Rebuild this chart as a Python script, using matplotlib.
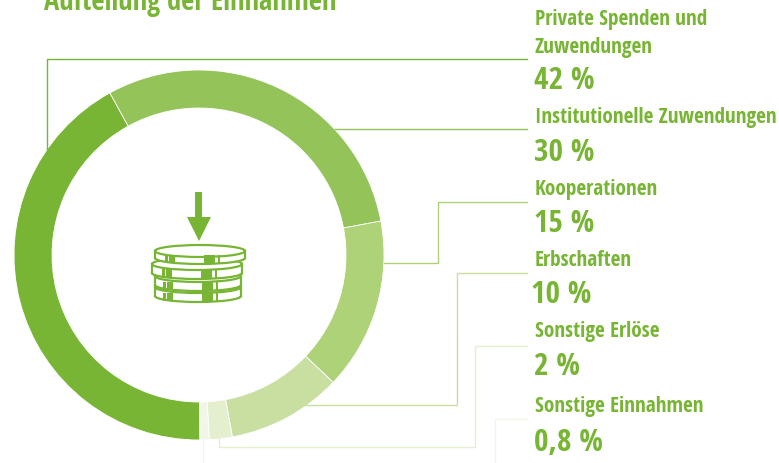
import matplotlib
matplotlib.use("Agg")
import matplotlib.pyplot as plt
from matplotlib.patches import Ellipse, Polygon, Rectangle

categories = ["Private Spenden und\nZuwendungen", "Institutionelle Zuwendungen", "Kooperationen",
              "Erbschaften", "Sonstige Erlöse", "Sonstige Einnahmen"]
value_labels = ["42 %", "30 %", "15 %", "10 %", "2 %", "0,8 %"]
values = [42, 30, 15, 10, 2, 0.8]
colors = ["#78b534", "#93c359", "#aed277", "#c9dfa2", "#e4efcf", "#f1f6e7"]
title = "Aufteilung der Einnahmen"

font = "Open Sans Condensed"
green = "#78b534"
H = 464


def Y(y):
    return H - y


fig = plt.figure(figsize=(7.79, 4.64), dpi=100)
ax = fig.add_axes([0, 0, 1, 1])

# ring
ax.pie(values, colors=colors, startangle=270.3, counterclock=False, center=(199, Y(256)), radius=185,
       frame=True, wedgeprops=dict(width=38, edgecolor="white", linewidth=0.6))
ax.set_xlim(0, 779)
ax.set_ylim(0, H)
ax.set_aspect("auto")
ax.axis("off")

# leader lines
leaders = [
    ([47, 47, 527], [150, 60, 60]),
    ([335, 527], [130, 130]),
    ([384, 438, 438, 527], [264, 264, 203, 203]),
    ([305, 457, 457, 527], [406, 406, 274, 274]),
    ([219, 219, 475, 475, 527], [437, 448, 448, 347, 347]),
    ([203, 203], [441, 464]),
]
for (xs, ys), c in zip(leaders, colors):
    ax.plot(xs, [Y(v) for v in ys], color=c, lw=1.0, zorder=1, solid_joinstyle="miter")
ax.plot([495, 495, 527], [Y(464), Y(420), Y(420)], color=colors[5], lw=1.0, zorder=1)

# labels
label_y = [[20, 47], [118], [190], [261], [332], [407]]
value_y = [81, 153, 224, 295, 367, 443]
value_x = [534, 534, 534, 531, 534, 534]
for cat, val, ly, vy, vx in zip(categories, value_labels, label_y, value_y, value_x):
    for line, y in zip(cat.split("\n"), ly):
        ax.text(535, Y(y), line, color=green, fontsize=15.35, fontweight="bold", family=font,
                ha="left", va="center")
    ax.text(vx, Y(vy), val, color=green, fontsize=22.5, fontweight="bold", family=font,
            ha="left", va="center")

ax.text(44, Y(10), title, color=green, fontsize=20.5, fontweight="bold", family=font, ha="left", va="baseline")

# arrow
ax.add_patch(Rectangle((195, Y(219)), 7.5, 26, color=green, lw=0))
ax.add_patch(Polygon([(187, Y(218)), (211, Y(218)), (199, Y(242))], color=green, lw=0))

# coin stack, bottom first: centre x, half width, top rim y, bottom rim y, band top, band bottom
coins = [(198, 43, 288, 297, 294, 302), (198, 43, 277, 286, 283, 291),
         (197, 45, 265, 274, 270, 279), (200, 45, 252, 259, 256, 264)]
bands = [(-35, 3), (-31, 6), (4, 11), (18, 2)]
for cx, rx, top, bottom, b0, b1 in coins:
    ax.add_patch(Ellipse((cx, Y(bottom)), rx * 2, 12, fc="white", ec=green, lw=1.6))
    ax.add_patch(Rectangle((cx - rx, Y(bottom)), rx * 2, bottom - top, fc="white", ec="none"))
    ax.plot([cx - rx, cx - rx], [Y(top), Y(bottom)], color=green, lw=1.6)
    ax.plot([cx + rx, cx + rx], [Y(top), Y(bottom)], color=green, lw=1.6)
    ax.add_patch(Ellipse((cx, Y(top)), rx * 2, 12, fc="white", ec=green, lw=1.6))
    for off, w in bands:
        ax.add_patch(Rectangle((cx + off, Y(b1)), w, b1 - b0, fc=green, ec="none"))

fig.savefig("out.png", dpi=100)
